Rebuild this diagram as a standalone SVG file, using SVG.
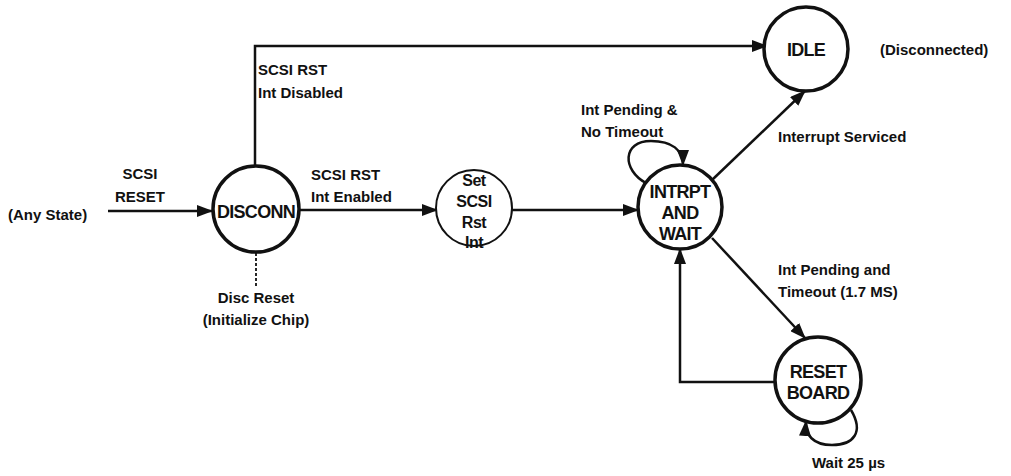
<svg xmlns="http://www.w3.org/2000/svg" width="1011" height="476" viewBox="0 0 1011 476">
<style>
.lbl{font-family:"Liberation Sans",Arial,sans-serif;font-size:15px;font-weight:bold;fill:#111}
.nt{font-family:"Liberation Sans",Arial,sans-serif;font-size:18px;font-weight:bold;fill:#111;text-anchor:middle;letter-spacing:-0.7px}
.st{font-family:"Liberation Sans",Arial,sans-serif;font-size:16px;font-weight:bold;fill:#111;text-anchor:middle;letter-spacing:-0.5px}
.node{fill:#fff;stroke:#111;stroke-width:3.5}
.thin{fill:#fff;stroke:#111;stroke-width:2}
.edge{fill:none;stroke:#111;stroke-width:2.5}
.dash{fill:none;stroke:#111;stroke-width:1.8;stroke-dasharray:3,2}
</style>
<defs>
<marker id="arr" markerUnits="userSpaceOnUse" markerWidth="16" markerHeight="12" refX="15" refY="6" orient="auto">
<path d="M0,0 L16,6 L0,12 z" fill="#111"/>
</marker>
</defs>
<g id="connectors">
<line class="edge" x1="108" y1="211" x2="212" y2="211" marker-end="url(#arr)"/>
<polyline class="edge" points="255,166 255,46 767,46" marker-end="url(#arr)"/>
<line class="dash" x1="256" y1="253" x2="256" y2="287"/>
<line class="edge" x1="300" y1="210" x2="437" y2="210" marker-end="url(#arr)"/>
<line class="edge" x1="512" y1="210" x2="638" y2="210" marker-end="url(#arr)"/>
<path class="edge" d="M646,183 C622,170 622,141 651,141 C672,141 683,150 683,165" marker-end="url(#arr)"/>
<line class="edge" x1="712" y1="180" x2="805" y2="91" marker-end="url(#arr)"/>
<line class="edge" x1="712" y1="238" x2="805" y2="338" marker-end="url(#arr)"/>
<polyline class="edge" points="775,382 680,382 680,249" marker-end="url(#arr)"/>
<path class="edge" d="M851,410 C864,432 854,445 832,445 C813,445 805,435 806,421" marker-end="url(#arr)"/>
</g>
<g id="any-state"><text class="lbl" x="8" y="220">(Any State)</text></g>
<g id="lbl-scsi-reset">
<text class="lbl" x="140" y="179" text-anchor="middle">SCSI</text>
<text class="lbl" x="140" y="202" text-anchor="middle">RESET</text>
</g>
<g id="disconn">
<circle class="node" cx="256" cy="209" r="43"/>
<text class="nt" x="256" y="218">DISCONN</text>
</g>
<g id="lbl-disabled">
<text class="lbl" x="258" y="75">SCSI RST</text>
<text class="lbl" x="258" y="98">Int Disabled</text>
</g>
<g id="lbl-disc-reset">
<text class="lbl" x="256" y="303" text-anchor="middle">Disc Reset</text>
<text class="lbl" x="256" y="325" text-anchor="middle">(Initialize Chip)</text>
</g>
<g id="lbl-enabled">
<text class="lbl" x="311" y="180">SCSI RST</text>
<text class="lbl" x="311" y="202">Int Enabled</text>
</g>
<g id="set-scsi">
<circle class="thin" cx="474" cy="208" r="38"/>
<text class="st" x="474" y="186">Set</text>
<text class="st" x="474" y="207">SCSI</text>
<text class="st" x="474" y="228">Rst</text>
<text class="st" x="474" y="248">Int</text>
</g>
<g id="intrpt">
<circle class="node" cx="680" cy="207" r="42"/>
<text class="nt" x="680" y="198">INTRPT</text>
<text class="nt" x="680" y="219">AND</text>
<text class="nt" x="680" y="240">WAIT</text>
</g>
<g id="lbl-loop">
<text class="lbl" x="581" y="115">Int Pending &amp;</text>
<text class="lbl" x="581" y="137">No Timeout</text>
</g>
<g id="idle">
<circle class="node" cx="806" cy="49" r="42"/>
<text class="nt" x="806" y="56">IDLE</text>
</g>
<g id="lbl-disconnected"><text class="lbl" x="880" y="55">(Disconnected)</text></g>
<g id="lbl-serviced"><text class="lbl" x="778" y="142">Interrupt Serviced</text></g>
<g id="lbl-timeout">
<text class="lbl" x="778" y="275">Int Pending and</text>
<text class="lbl" x="778" y="297">Timeout (1.7 MS)</text>
</g>
<g id="reset-board">
<circle class="node" cx="818" cy="380" r="43"/>
<text class="nt" x="818" y="378">RESET</text>
<text class="nt" x="818" y="399">BOARD</text>
</g>
<g id="lbl-wait"><text class="lbl" x="812" y="468">Wait 25 µs</text></g>
</svg>
